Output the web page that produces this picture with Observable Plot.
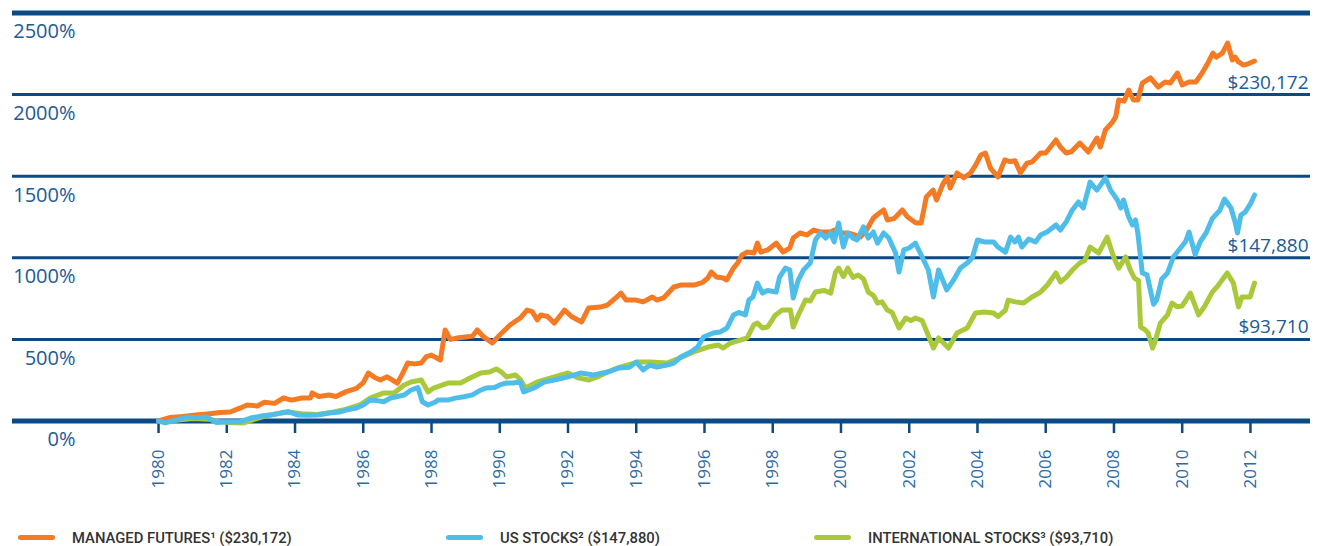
<!DOCTYPE html>
<html><head><meta charset="utf-8">
<script src="https://cdn.jsdelivr.net/npm/d3@7"></script>
<script src="https://cdn.jsdelivr.net/npm/@observablehq/plot@0.6"></script>
<style>
body{margin:0;background:#fff;}
#chart svg{display:block;}
.legend{position:relative;width:1320px;height:26px;font-family:Roboto,"Liberation Sans",sans-serif;font-weight:500;font-size:14.8px;color:#333;}
.legend .item{position:absolute;top:4.5px;height:26px;display:flex;align-items:center;white-space:nowrap;}
.legend .sw{width:37px;height:5px;border-radius:3px;margin-right:17px;}
</style></head><body>
<div id="chart"></div>
<div class="legend" id="legend"></div>
<script>
// ---- data ----
const yearTicks = [1980,1982,1984,1986,1988,1990,1992,1994,1996,1998,2000,2002,2004,2006,2008,2010,2012];
const percentTicks = [0,500,1000,1500,2000,2500];
const seriesNames = ["MANAGED FUTURES\u00B9", "US STOCKS\u00B2", "INTERNATIONAL STOCKS\u00B3"];
const seriesEndValues = ["$230,172", "$147,880", "$93,710"];
const seriesColors = ["#f47a23", "#4fbde9", "#a9c93a"];

// [year, cumulative % gain]
const managedFutures = [
[1980.0,0],[1980.35,22],[1980.7,28],[1981.1,37],[1981.5,45],[1981.8,52],[1982.1,55],[1982.4,80],[1982.6,98],[1982.9,92],
[1983.1,115],[1983.4,108],[1983.66,141],[1983.9,128],[1984.2,141],[1984.45,141],[1984.5,172],[1984.7,150],[1985.0,159],[1985.2,150],
[1985.5,180],[1985.8,200],[1986.0,235],[1986.15,294],[1986.35,265],[1986.5,251],[1986.7,271],[1987.0,232],[1987.15,290],[1987.3,355],
[1987.5,350],[1987.7,355],[1987.85,395],[1988.0,404],[1988.26,374],[1988.4,558],[1988.55,500],[1988.8,510],[1989.0,515],[1989.2,520],
[1989.34,558],[1989.5,520],[1989.78,478],[1990.0,527],[1990.3,588],[1990.6,631],[1990.8,680],[1990.95,670],[1991.1,619],[1991.2,650],
[1991.4,640],[1991.6,600],[1991.9,680],[1992.1,640],[1992.4,607],[1992.6,692],[1992.95,698],[1993.15,710],[1993.4,754],[1993.55,784],
[1993.7,741],[1994.0,741],[1994.2,730],[1994.47,760],[1994.6,741],[1994.8,754],[1995.1,821],[1995.3,833],[1995.5,833],[1995.7,833],
[1995.95,850],[1996.1,876],[1996.2,913],[1996.35,882],[1996.55,876],[1996.65,864],[1996.85,937],[1996.97,968],[1997.1,1017],[1997.25,1035],
[1997.45,1029],[1997.55,1090],[1997.65,1035],[1997.85,1048],[1998.1,1090],[1998.3,1035],[1998.5,1060],[1998.6,1121],[1998.8,1152],[1999.0,1140],
[1999.2,1170],[1999.4,1158],[1999.7,1158],[1999.8,1170],[2000.0,1152],[2000.2,1152],[2000.4,1140],[2000.57,1127],[2000.75,1170],[2000.95,1244],
[2001.1,1270],[2001.25,1293],[2001.36,1232],[2001.55,1240],[2001.8,1293],[2001.95,1250],[2002.2,1213],[2002.35,1213],[2002.5,1373],[2002.7,1415],
[2002.8,1354],[2003.0,1458],[2003.12,1495],[2003.2,1428],[2003.4,1520],[2003.6,1490],[2003.8,1520],[2003.95,1569],[2004.1,1630],[2004.23,1642],
[2004.38,1550],[2004.6,1495],[2004.8,1600],[2004.95,1590],[2005.1,1595],[2005.26,1520],[2005.45,1580],[2005.6,1587],[2005.85,1642],[2006.0,1642],
[2006.14,1679],[2006.3,1722],[2006.43,1679],[2006.6,1642],[2006.75,1650],[2007.0,1703],[2007.25,1648],[2007.5,1734],[2007.6,1679],[2007.75,1783],
[2007.95,1830],[2008.05,1863],[2008.14,1967],[2008.3,1960],[2008.43,2028],[2008.57,1967],[2008.7,1967],[2008.83,2071],[2009.07,2102],[2009.3,2046],
[2009.5,2077],[2009.65,2071],[2009.86,2132],[2010.0,2059],[2010.2,2077],[2010.4,2077],[2010.6,2138],[2010.77,2200],[2010.9,2255],[2011.0,2230],
[2011.18,2255],[2011.33,2316],[2011.47,2212],[2011.55,2230],[2011.65,2200],[2011.8,2181],[2011.95,2190],[2012.12,2206]
];
const usStocks = [
[1980.0,0],[1980.2,-12],[1980.5,5],[1980.85,25],[1981.1,20],[1981.4,25],[1981.7,-10],[1982.0,-5],[1982.4,-4],[1982.7,18],
[1983.0,30],[1983.3,37],[1983.6,50],[1983.8,57],[1984.07,37],[1984.4,35],[1984.66,37],[1985.0,49],[1985.3,55],[1985.5,67],
[1985.8,80],[1986.0,98],[1986.2,129],[1986.4,125],[1986.6,118],[1986.8,141],[1987.0,150],[1987.2,159],[1987.4,190],[1987.6,205],
[1987.73,118],[1987.9,98],[1988.1,115],[1988.2,129],[1988.5,129],[1988.7,140],[1988.95,149],[1989.2,160],[1989.4,185],[1989.6,202],
[1989.85,205],[1990.0,221],[1990.2,233],[1990.4,233],[1990.6,239],[1990.7,178],[1991.0,202],[1991.3,239],[1991.6,251],[1992.0,270],
[1992.37,294],[1992.75,282],[1993.16,300],[1993.5,325],[1993.8,330],[1994.0,361],[1994.2,313],[1994.4,343],[1994.6,330],[1994.9,343],
[1995.1,355],[1995.3,392],[1995.6,423],[1995.8,453],[1995.97,515],[1996.26,539],[1996.45,545],[1996.66,570],[1996.85,650],[1997.0,665],
[1997.2,650],[1997.3,741],[1997.42,760],[1997.55,845],[1997.62,815],[1997.7,784],[1997.85,800],[1998.1,790],[1998.2,882],[1998.37,937],
[1998.5,925],[1998.6,754],[1998.75,864],[1998.9,925],[1999.1,968],[1999.25,1109],[1999.4,1152],[1999.55,1121],[1999.7,1152],[1999.8,1097],
[1999.93,1213],[2000.07,1066],[2000.2,1152],[2000.35,1121],[2000.47,1109],[2000.66,1189],[2000.8,1121],[2000.95,1158],[2001.07,1090],[2001.25,1152],
[2001.4,1121],[2001.6,1029],[2001.7,913],[2001.84,1048],[2002.0,1060],[2002.18,1090],[2002.38,1005],[2002.56,925],[2002.71,760],[2002.86,925],
[2003.1,803],[2003.3,864],[2003.5,937],[2003.7,968],[2003.85,1000],[2004.0,1109],[2004.2,1097],[2004.47,1097],[2004.6,1066],[2004.82,1035],
[2004.97,1127],[2005.1,1097],[2005.2,1127],[2005.3,1066],[2005.5,1115],[2005.7,1097],[2005.85,1140],[2006.05,1160],[2006.3,1201],[2006.43,1170],
[2006.6,1220],[2006.78,1293],[2006.96,1342],[2007.1,1305],[2007.3,1464],[2007.5,1415],[2007.75,1489],[2007.9,1415],[2008.1,1354],[2008.2,1305],
[2008.28,1354],[2008.43,1250],[2008.54,1201],[2008.63,1232],[2008.7,1152],[2008.83,907],[2008.97,895],[2009.16,715],[2009.25,741],[2009.4,870],
[2009.57,907],[2009.74,1005],[2009.95,1060],[2010.1,1100],[2010.2,1158],[2010.38,1020],[2010.53,1100],[2010.7,1152],[2010.88,1240],[2011.1,1290],
[2011.24,1360],[2011.43,1305],[2011.55,1219],[2011.62,1152],[2011.72,1262],[2011.85,1281],[2012.0,1330],[2012.12,1385]
];
const internationalStocks = [
[1980.0,0],[1980.5,5],[1981.0,15],[1981.5,10],[1981.8,-5],[1982.2,-10],[1982.5,-12],[1982.8,10],[1983.2,35],[1983.5,45],
[1983.8,55],[1984.2,45],[1984.66,40],[1985.0,50],[1985.4,67],[1985.9,98],[1986.2,141],[1986.45,160],[1986.6,172],[1986.9,172],
[1987.2,221],[1987.4,239],[1987.7,251],[1987.8,215],[1987.9,178],[1988.06,202],[1988.5,233],[1988.85,233],[1989.1,260],[1989.44,294],
[1989.7,300],[1989.9,319],[1990.05,300],[1990.2,270],[1990.46,282],[1990.6,255],[1990.75,202],[1991.1,239],[1991.35,255],[1991.6,270],
[1992.0,294],[1992.3,264],[1992.6,251],[1992.86,270],[1993.16,300],[1993.45,325],[1993.74,343],[1994.04,361],[1994.4,361],[1994.9,355],
[1995.35,392],[1995.6,417],[1996.1,453],[1996.4,466],[1996.55,447],[1996.76,478],[1997.05,496],[1997.25,510],[1997.44,588],[1997.55,600],
[1997.7,570],[1997.85,576],[1998.08,650],[1998.28,680],[1998.52,680],[1998.6,576],[1998.75,650],[1998.96,741],[1999.1,735],[1999.25,790],
[1999.5,800],[1999.7,784],[1999.84,913],[1999.93,937],[2000.07,885],[2000.2,937],[2000.35,880],[2000.5,895],[2000.66,870],[2000.8,790],
[2000.95,770],[2001.07,723],[2001.2,730],[2001.36,680],[2001.5,665],[2001.7,570],[2001.9,631],[2002.05,615],[2002.18,631],[2002.38,615],
[2002.53,539],[2002.71,447],[2002.86,509],[2003.15,447],[2003.4,539],[2003.7,570],[2003.94,662],[2004.2,668],[2004.47,662],[2004.6,640],
[2004.82,680],[2004.9,741],[2005.1,730],[2005.35,723],[2005.6,760],[2005.85,790],[2006.05,833],[2006.3,907],[2006.43,852],[2006.6,880],
[2006.78,925],[2007.0,968],[2007.15,985],[2007.3,1066],[2007.55,1029],[2007.8,1127],[2007.99,1005],[2008.14,937],[2008.34,1005],[2008.48,925],
[2008.6,876],[2008.72,860],[2008.78,576],[2008.92,558],[2009.0,540],[2009.13,447],[2009.2,484],[2009.36,600],[2009.57,650],[2009.7,723],
[2009.85,700],[2010.0,705],[2010.24,784],[2010.48,650],[2010.65,700],[2010.88,790],[2011.05,830],[2011.32,907],[2011.5,845],[2011.65,699],
[2011.75,760],[2011.99,760],[2012.12,845]
];

// ---- build ----
const navy = "#0b4a84";
const labelBlue = "#205b95";
const allSeries = [managedFutures, usStocks, internationalStocks];
const rows = allSeries.flatMap((s, i) => s.map(([year, pct]) => ({series: seriesNames[i], year, pct})));
const endLabels = allSeries.map((s, i) => {
  const last = s[s.length - 1][1];
  const anchor = d3.max(percentTicks.filter(t => t <= last));
  return {text: seriesEndValues[i], pct: anchor};
});
const innerGrid = percentTicks.filter(t => t !== 0 && t !== d3.max(percentTicks));
const drawOrder = [2, 0, 1];

const chart = Plot.plot({
  width: 1320,
  height: 520,
  marginTop: 12.5,
  marginBottom: 99.5,
  marginLeft: 12,
  marginRight: 10,
  x: {type: "linear", domain: [1975.72, 2013.76], axis: null},
  y: {domain: [0, 2500], axis: null},
  color: {domain: seriesNames, range: seriesColors},
  style: {fontFamily: "'Open Sans', sans-serif", background: "#fff"},
  marks: [
    Plot.ruleY(innerGrid, {y: d => d, stroke: navy, strokeWidth: 3}),
    Plot.ruleY([d3.max(percentTicks)], {y: d => d, stroke: navy, strokeWidth: 5}),
    Plot.ruleY([0], {y: d => d, stroke: navy, strokeWidth: 5}),
    Plot.axisX({ticks: yearTicks, tickSize: 12.5, tickFormat: () => "", stroke: navy, strokeWidth: 2.5, label: null}),
    ...drawOrder.map(i => Plot.line(rows.filter(r => r.series === seriesNames[i]), {
      x: "year", y: "pct", stroke: seriesColors[i], strokeWidth: 5,
      strokeLinejoin: "round", strokeLinecap: "round", curve: "linear"
    })),
    Plot.text(percentTicks, {y: d => d, text: d => d + "%", frameAnchor: "left", textAnchor: "end",
      dx: 63, dy: 19, fontSize: 20, fill: labelBlue}),
    Plot.text(yearTicks, {x: d => d, text: d => String(d), frameAnchor: "bottom", rotate: -90,
      textAnchor: "end", lineAnchor: "middle", dy: 28.5, fontSize: 17, fill: "#2e6aa3"}),
    Plot.text(endLabels, {y: "pct", text: "text", frameAnchor: "right", textAnchor: "end",
      dx: -2, dy: -12, fontSize: 19, fill: labelBlue})
  ]
});
document.getElementById("chart").appendChild(chart);

// ---- legend ----
const legendLefts = [18, 446, 814];
const legend = document.getElementById("legend");
seriesNames.forEach((name, i) => {
  const item = document.createElement("div");
  item.className = "item";
  item.style.left = legendLefts[i] + "px";
  const sw = document.createElement("span");
  sw.className = "sw";
  sw.style.background = seriesColors[i];
  const label = document.createElement("span");
  label.textContent = name + " (" + seriesEndValues[i] + ")";
  item.appendChild(sw);
  item.appendChild(label);
  legend.appendChild(item);
});
</script>
</body></html>
